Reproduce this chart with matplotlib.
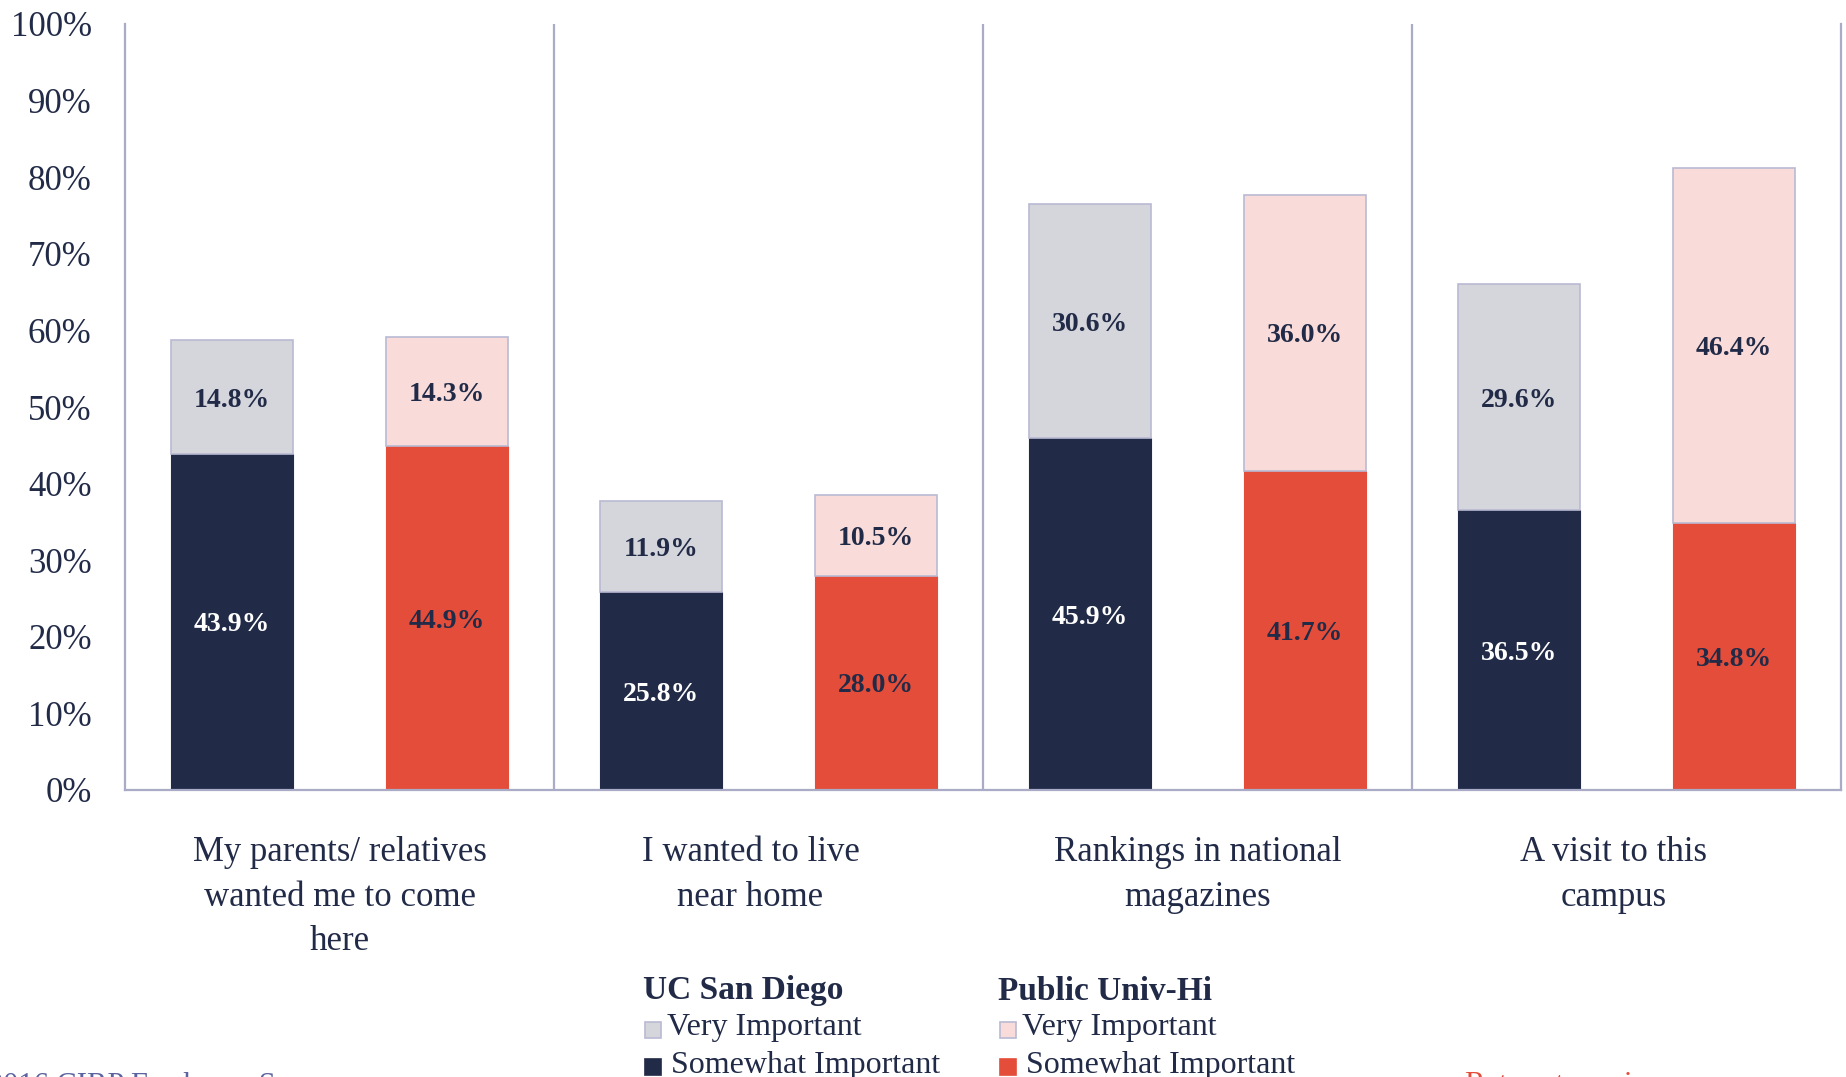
import matplotlib
matplotlib.use("Agg")
import matplotlib.pyplot as plt
import matplotlib.transforms as mtransforms
from matplotlib.patches import Rectangle
import numpy as np

plt.rcParams['font.family'] = ['Liberation Serif', 'DejaVu Serif']

categories = ["My parents/ relatives\nwanted me to come\nhere",
              "I wanted to live\nnear home",
              "Rankings in national\nmagazines",
              "A visit to this\ncampus"]
ucsd_somewhat = [43.9, 25.8, 45.9, 36.5]
ucsd_very = [14.8, 11.9, 30.6, 29.6]
pub_somewhat = [44.9, 28.0, 41.7, 34.8]
pub_very = [14.3, 10.5, 36.0, 46.4]
yticks = [0, 10, 20, 30, 40, 50, 60, 70, 80, 90, 100]

NAVY = "#212a47"
GRAY = "#d5d6dc"
PINK = "#f9dcd9"
RED = "#e44d39"
LINE = "#a9abc7"
EDGE = "#b9bad3"

W, H = 1846, 1077
fig = plt.figure(figsize=(W / 100, H / 100), dpi=100)
ax = fig.add_axes([125 / W, 1 - 790 / H, (1841 - 125) / W, (790 - 24) / H])

x = np.arange(len(categories))
off = 0.25
bw = 0.285

ax.bar(x - off, ucsd_somewhat, bw, color=NAVY, edgecolor=NAVY, linewidth=0.8)
ax.bar(x - off, ucsd_very, bw, bottom=ucsd_somewhat, color=GRAY, edgecolor=EDGE, linewidth=1.2)
ax.bar(x + off, pub_somewhat, bw, color=RED, edgecolor=RED, linewidth=0.8)
ax.bar(x + off, pub_very, bw, bottom=pub_somewhat, color=PINK, edgecolor=EDGE, linewidth=1.2)

lab_kw = dict(ha='center', va='center_baseline', fontsize=20, fontweight='bold')
for i in range(len(categories)):
    ax.text(x[i] - off, ucsd_somewhat[i] / 2, f"{ucsd_somewhat[i]:.1f}%", color='white', **lab_kw)
    ax.text(x[i] - off, ucsd_somewhat[i] + ucsd_very[i] / 2, f"{ucsd_very[i]:.1f}%", color=NAVY, **lab_kw)
    ax.text(x[i] + off, pub_somewhat[i] / 2, f"{pub_somewhat[i]:.1f}%", color=NAVY, **lab_kw)
    ax.text(x[i] + off, pub_somewhat[i] + pub_very[i] / 2, f"{pub_very[i]:.1f}%", color=NAVY, **lab_kw)

ax.set_xlim(-0.5, len(categories) - 0.5)
ax.set_ylim(0, 100)
ax.set_yticks(yticks)
ax.set_yticklabels([f"{v}%" for v in yticks], fontsize=25, color=NAVY)
ax.set_xticks(x)
ax.set_xticklabels(categories, fontsize=25, color=NAVY, linespacing=1.47)
ax.tick_params(axis='y', length=0, pad=24)
ax.tick_params(axis='x', length=0, pad=33)

# small horizontal nudges of the wrapped category labels (in points)
label_nudge_pt = [0, -13, 0, -9]
for lbl, dx in zip(ax.get_xticklabels(), label_nudge_pt):
    lbl.set_transform(lbl.get_transform() +
                      mtransforms.ScaledTranslation(dx / 72, 0, fig.dpi_scale_trans))

for s in ['left', 'right', 'bottom']:
    ax.spines[s].set_color(LINE)
    ax.spines[s].set_linewidth(1.6)
ax.spines['top'].set_visible(False)
for b in x[:-1] + 0.5:
    ax.axvline(b, color=LINE, linewidth=1.6, zorder=0)

# manual legend
def fx(px):
    return px / W

def fy(py):
    return 1 - py / H

sq = 16
groups = [
    (643, "UC San Diego", [(GRAY, EDGE, "Very Important"), (NAVY, NAVY, "Somewhat Important")]),
    (998, "Public Univ-Hi", [(PINK, EDGE, "Very Important"), (RED, RED, "Somewhat Important")]),
]
rows_y = [1028, 1065]
for x0, title, items in groups:
    fig.text(fx(x0), fy(991), title, fontsize=24, fontweight='bold', color=NAVY,
             ha='left', va='center')
    for j, ((fc, ec, lab), yy) in enumerate(zip(items, rows_y)):
        fig.patches.append(Rectangle((fx(x0 + 2), fy(yy + sq / 2 + 2)), sq / W, sq / H,
                                     transform=fig.transFigure, facecolor=fc,
                                     edgecolor=ec, linewidth=1.2))
        fig.text(fx(x0 + 24 + 4 * j), fy(yy), lab, fontsize=23, color=NAVY,
                 ha='left', va='center')

# footer fragments cut off at the bottom edge
fig.text(fx(-12), fy(1072), "2016 CIRP Freshman Survey", fontsize=22, color="#5b63a0",
         ha='left', va='top')
fig.text(fx(1465), fy(1071), "Return to main menu", fontsize=22, color=RED,
         ha='left', va='top')

fig.savefig("out.png", dpi=100)
